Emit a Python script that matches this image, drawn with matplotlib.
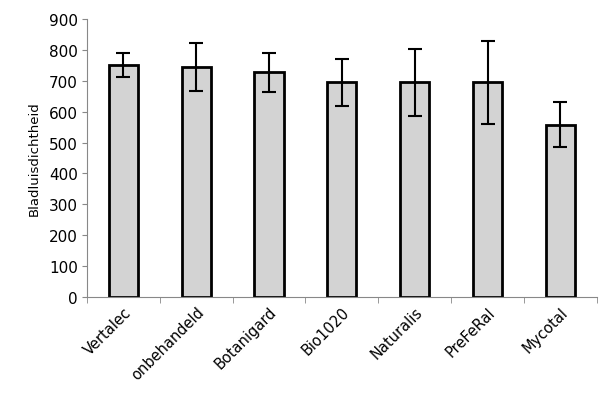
import matplotlib.pyplot as plt
import numpy as np

treatments = ['Vertalec', 'onbehandeld', 'Botanigard', 'Bio1020', 'Naturalis', 'PreFeRal', 'Mycotal']
density = [751, 745, 727, 695, 695, 695, 558]
error = [39, 78, 64, 77, 108, 135, 73]


def bar_aphids():
    fig = plt.figure(figsize=(6.16, 4.02), dpi=100)
    ax = fig.add_axes([0.141, 0.259, 0.828, 0.691])
    x = np.arange(len(treatments))
    ax.bar(x, density, width=0.4, color='#d3d3d3', edgecolor='black', linewidth=2, zorder=2)
    ax.errorbar(x, density, yerr=error, fmt='none', ecolor='black', elinewidth=1.5,
                capsize=5, capthick=1.5, zorder=3)

    ax.set_xlim(-0.5, len(treatments) - 0.5)
    ax.set_ylim(0, 900)
    ax.set_yticks(range(0, 901, 100))
    ax.tick_params(axis='y', labelsize=11, length=3.5, color='#888888', pad=3)
    ax.set_xticks(x)
    ax.set_xticklabels(treatments, rotation=45, ha='right', rotation_mode='anchor', fontsize=10.5)
    ax.tick_params(axis='x', which='major', length=0, pad=5)
    ax.set_xticks(np.arange(len(treatments) + 1) - 0.5, minor=True)
    ax.tick_params(axis='x', which='minor', length=4, color='#888888')
    ax.set_ylabel('Bladluisdichtheid', fontsize=9.5, labelpad=6)

    for s in ['top', 'right']:
        ax.spines[s].set_visible(False)
    for s in ['left', 'bottom']:
        ax.spines[s].set_color('#888888')

    plt.savefig('out.png', dpi=100)


if __name__ == '__main__':
    bar_aphids()
